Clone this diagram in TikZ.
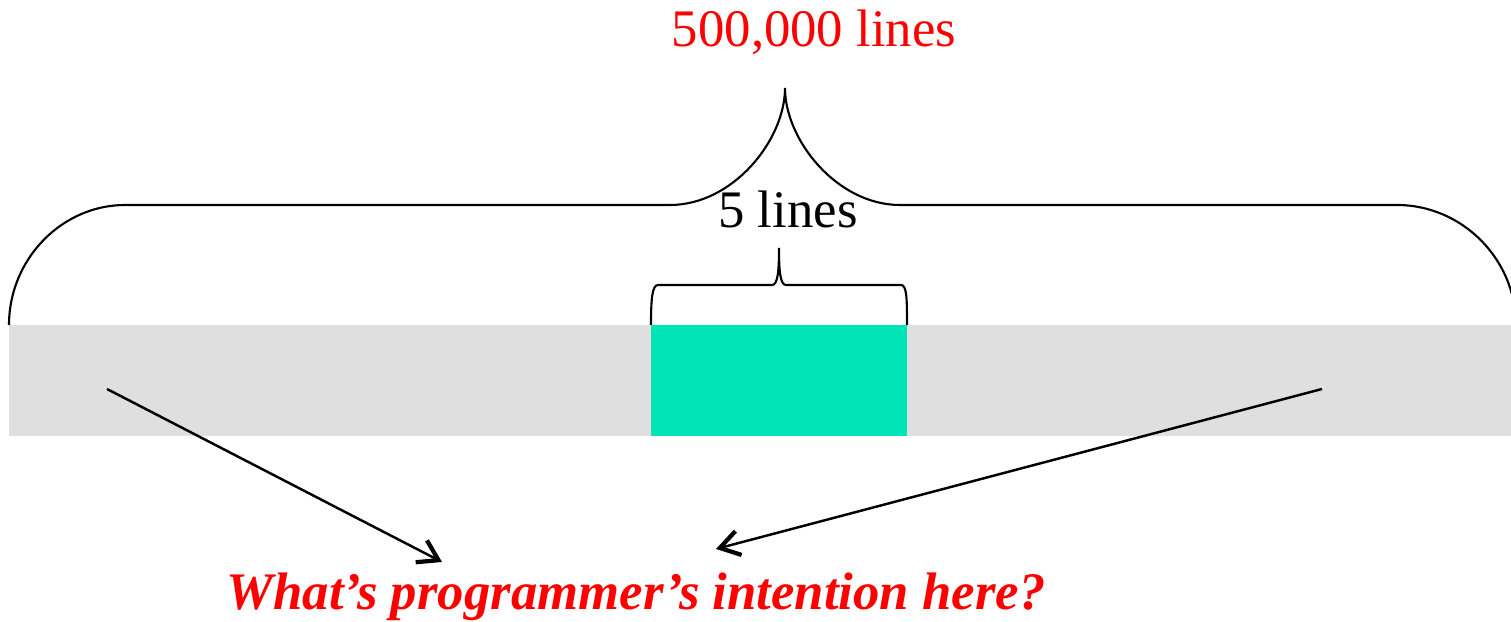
\documentclass[tikz,border=0pt]{standalone}
\usepackage{fontspec}
\setmainfont{Liberation Serif}
\usetikzlibrary{arrows.meta}
\definecolor{barGray}{HTML}{DFDFDF}
\definecolor{snipGreen}{HTML}{00E5B8}

\begin{document}
\begin{tikzpicture}[x=0.01cm, y=-0.01cm,
    brace/.style={line width=0.6pt},
    hint/.style={line width=0.7pt, -{Straight Barb[length=5.5pt, width=7pt, line width=1.2pt]}},
    bigtext/.style={font=\fontsize{15}{18}\selectfont},
    asktext/.style={font=\fontsize{15}{18}\selectfont\bfseries\itshape, text=red}]
      \useasboundingbox (0,0) rectangle (1511,622);
      \fill[barGray] (9,325) rectangle (1511,436);
      \fill[snipGreen] (651,325) rectangle (907,436);
      \draw[brace] (9,325) .. controls (9,259) and (62,205) .. (125,205) -- (670,205)
        .. controls (733,205) and (785,140) .. (785,88)
        .. controls (785,140) and (837,205) .. (900,205) -- (1397,205)
        .. controls (1462,205) and (1516,259) .. (1516,325);
      \draw[brace] (651,325) .. controls (651,300) and (652,285) .. (658,285) -- (772,285)
        .. controls (778,285) and (779,270) .. (779,248)
        .. controls (779,270) and (780,285) .. (786,285) -- (901,285)
        .. controls (907,285) and (907,300) .. (907,325);
      \node [bigtext, text=red, anchor=base, inner sep=0pt] (total) at (814,47) {500,000 lines};
      \node [bigtext, anchor=base, inner sep=0pt] (snippet) at (788,228) {5 lines};
      \node [asktext, anchor=base, inner sep=0pt] (question) at (636,610) {What’s programmer’s intention here?};
      \coordinate (before) at (107,389);
      \coordinate (after) at (1322,389);
      \coordinate (askleft) at (442,562);
      \coordinate (askright) at (716,549);
      \draw[hint] (before) -- (askleft);
      \draw[hint] (after) -- (askright);
    \end{tikzpicture}
\end{document}
